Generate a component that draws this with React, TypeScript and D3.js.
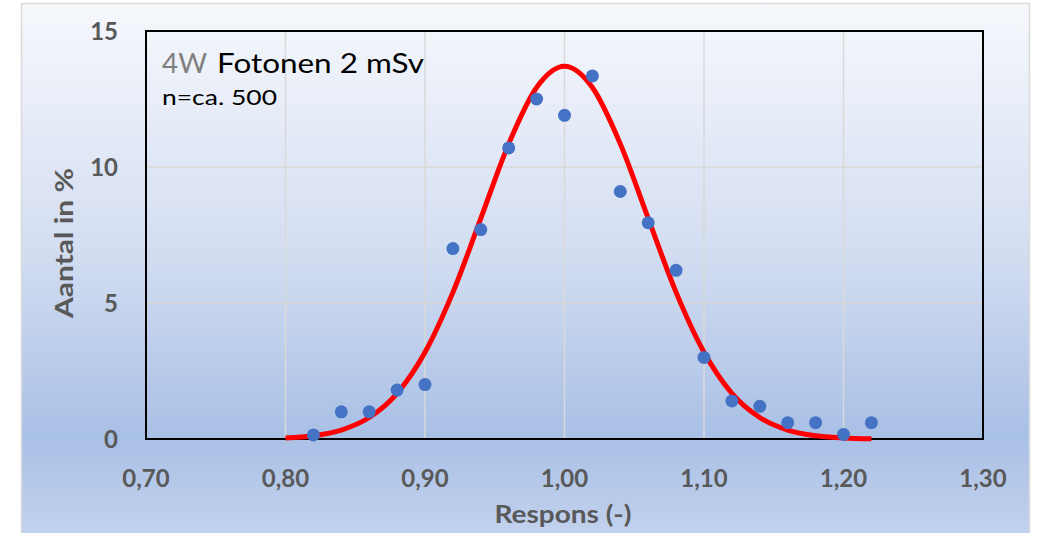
import React from "react";
import * as d3 from "d3";

const respons = [0.82, 0.84, 0.86, 0.88, 0.9, 0.92, 0.94, 0.96, 0.98, 1.0, 1.02, 1.04, 1.06, 1.08, 1.1, 1.12, 1.14, 1.16, 1.18, 1.2, 1.22];
const aantal = [0.15, 1.0, 1.0, 1.8, 2.0, 7.0, 7.7, 10.7, 12.5, 11.9, 13.35, 9.1, 7.95, 6.2, 3.0, 1.4, 1.2, 0.6, 0.6, 0.17, 0.6];

const fitX = [0.8, 0.82, 0.84, 0.86, 0.88, 0.9, 0.92, 0.94, 0.96, 0.98, 1.0, 1.02, 1.04, 1.06, 1.08, 1.1, 1.12, 1.14, 1.16, 1.18, 1.2, 1.22];
const fitY = [0.04, 0.12, 0.33, 0.79, 1.68, 3.19, 5.39, 8.11, 10.85, 12.92, 13.7, 12.92, 10.85, 8.11, 5.39, 3.19, 1.68, 0.79, 0.33, 0.12, 0.04, 0.01];

const xTicks = [0.7, 0.8, 0.9, 1.0, 1.1, 1.2, 1.3];
const yTicks = [0, 5, 10, 15];

const W = 1040;
const H = 533;
const left = 146, right = 983, top = 31, bottom = 439;

export default function App() {
  const x = d3.scaleLinear().domain([0.7, 1.3]).range([left, right]);
  const y = d3.scaleLinear().domain([0, 15]).range([bottom, top]);
  const fmt = (v: number) => v.toFixed(2).replace(".", ",");
  const line = d3
    .line<number>()
    .x((_, i) => x(fitX[i]))
    .y((d) => y(d))
    .curve(d3.curveMonotoneX);
  const font = "Lato, 'Open Sans', sans-serif";
  const grey = "#595959";
  return (
    <svg
      width={W}
      height={H}
      style={{ position: "absolute", left: 0, top: 0 }}
      fontFamily={font}
    >
      <defs>
        <linearGradient id="bg" x1="0" y1="0" x2="0" y2="1">
          <stop offset="0" stopColor="#f6f8fc" />
          <stop offset="0.45" stopColor="#d4def2" />
          <stop offset="0.8" stopColor="#a9c0e5" />
          <stop offset="1" stopColor="#c4d3ee" />
        </linearGradient>
      </defs>
      <rect x={0} y={0} width={W} height={H} fill="#ffffff" />
      <rect x={21.5} y={3.5} width={1008} height={540} fill="url(#bg)" stroke="#d9d9d9" strokeWidth={1.5} />
      {xTicks.slice(1, -1).map((t) => (
        <line key={"gx" + t} x1={x(t)} x2={x(t)} y1={top} y2={bottom} stroke="#d9d9d9" strokeWidth={1.5} />
      ))}
      {yTicks.slice(1, -1).map((t) => (
        <line key={"gy" + t} x1={left} x2={right} y1={y(t)} y2={y(t)} stroke="#d9d9d9" strokeWidth={1.5} />
      ))}
      <rect x={left} y={top} width={right - left} height={bottom - top} fill="none" stroke="#000" strokeWidth={2} />
      {yTicks.map((t) => (
        <text key={"ty" + t} x={118} y={y(t) + 9} textAnchor="end" fontSize={24} fontWeight="bold" fill={grey}>
          {t}
        </text>
      ))}
      {xTicks.map((t) => (
        <text key={"tx" + t} x={x(t)} y={487} textAnchor="middle" fontSize={24} fontWeight="bold" fill={grey}>
          {fmt(t)}
        </text>
      ))}
      <text x={563} y={523} textAnchor="middle" fontSize={24} fontWeight="bold" fill={grey} textLength={137} lengthAdjust="spacingAndGlyphs">
        Respons (-)
      </text>
      <text
        transform="translate(73,243) rotate(-90)"
        textAnchor="middle"
        fontSize={24}
        fontWeight="bold"
        fill={grey}
        textLength={150}
        lengthAdjust="spacingAndGlyphs"
      >
        Aantal in %
      </text>
      <path d={line(fitY) || ""} fill="none" stroke="#ff0000" strokeWidth={5} />
      {respons.map((r, i) => (
        <circle key={"p" + i} cx={x(r)} cy={y(aantal[i])} r={6.5} fill="#4472c4" />
      ))}
      <text x={162} y={73} fontSize={26} fill="#7f7f7f" textLength={45} lengthAdjust="spacingAndGlyphs">
        4W
      </text>
      <text x={217} y={73} fontSize={26} fill="#000" textLength={207} lengthAdjust="spacingAndGlyphs">
        Fotonen 2 mSv
      </text>
      <text x={162} y={105} fontSize={21} fill="#000" textLength={115} lengthAdjust="spacingAndGlyphs">
        n=ca. 500
      </text>
    </svg>
  );
}
